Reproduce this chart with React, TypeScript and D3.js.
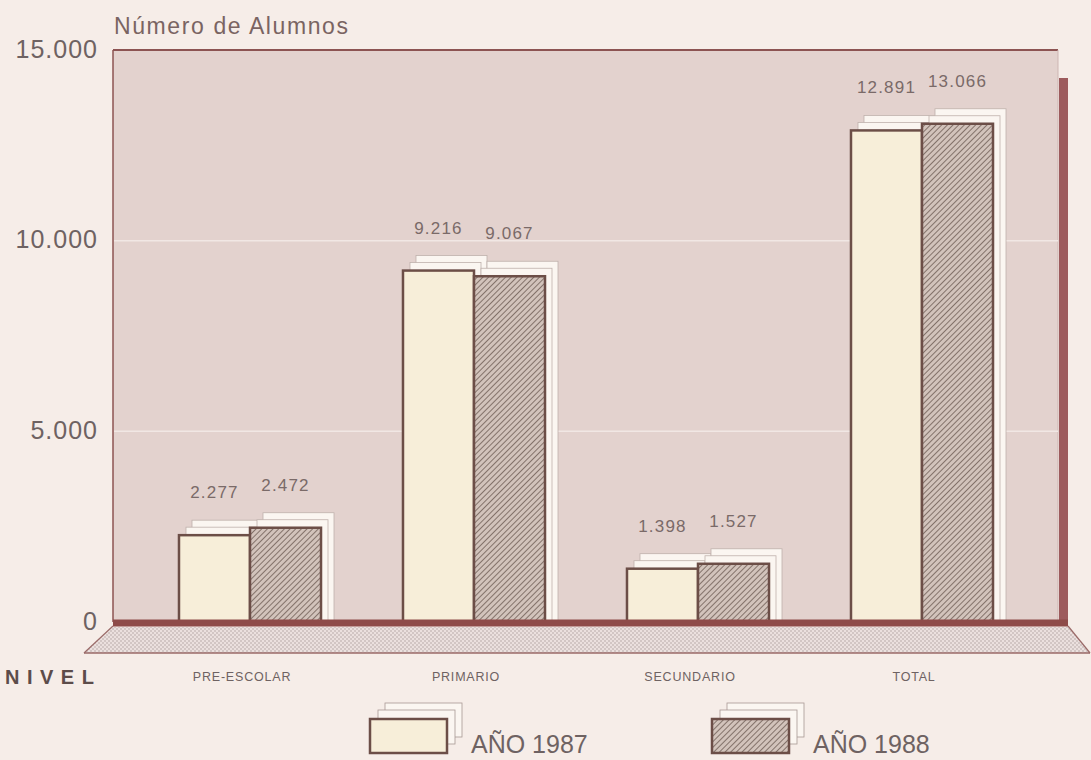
import React from "react";
import * as d3 from "d3";

const categories = ["PRE-ESCOLAR", "PRIMARIO", "SECUNDARIO", "TOTAL"];
const years = ["1987", "1988"];
const values1987 = [2277, 9216, 1398, 12891];
const values1988 = [2472, 9067, 1527, 13066];
const yTicks = [0, 5000, 10000, 15000];
const legendLabels = ["AÑO 1987", "AÑO 1988"];

const W = 1091;
const H = 760;
const panelLeft = 113;
const panelRight = 1058;
const panelTop = 50;
const baseY = 622;

const esLocale = d3.formatLocale({
  decimal: ",",
  thousands: ".",
  grouping: [3],
  currency: ["", ""],
});
const fmt = esLocale.format(",d");

const FONT = "'Liberation Sans', Arial, Helvetica, sans-serif";

const App = () => {
  const y = d3.scaleLinear().domain([0, 15000]).range([baseY, panelTop]);
  const x0 = d3
    .scaleBand<string>()
    .domain(categories)
    .range([138, 1034])
    .paddingInner(0.366)
    .paddingOuter(0.183);
  const x1 = d3.scaleBand<string>().domain(years).range([0, x0.bandwidth()]);

  const rows = categories.map((c, i) => ({
    cat: c,
    bars: [
      { year: years[0], value: values1987[i] },
      { year: years[1], value: values1988[i] },
    ],
  }));

  const barFill = (year: string) =>
    year === "1987" ? "#f7eed9" : "url(#hatch)";

  // back "cards" stacked up-right of every bar
  const cardOffsets = [
    [13, -15],
    [7, -8],
  ];

  return (
    <svg
      width={W}
      height={H}
      style={{ position: "absolute", left: 0, top: 0 }}
      fontFamily={FONT}
    >
      <defs>
        <pattern
          id="hatch"
          patternUnits="userSpaceOnUse"
          width={4}
          height={4}
          patternTransform="rotate(45)"
        >
          <rect width={4} height={4} fill="#d2c3bb" />
          <line x1={0} y1={0} x2={0} y2={4} stroke="#7a6961" strokeWidth={1.8} />
        </pattern>
        <pattern id="dots" patternUnits="userSpaceOnUse" width={4} height={4}>
          <rect width={4} height={4} fill="#ebe0de" />
          <circle cx={1} cy={1} r={0.8} fill="#b3a5a4" />
          <circle cx={3} cy={3} r={0.8} fill="#b3a5a4" />
        </pattern>
      </defs>

      <rect width={W} height={H} fill="#f6ede8" />

      {/* title */}
      <text x={114} y={34} fontSize={23} letterSpacing={1.6} fill="#7a6462">
        Número de Alumnos
      </text>

      {/* panel */}
      <rect
        x={panelLeft}
        y={panelTop}
        width={panelRight - panelLeft}
        height={baseY - panelTop}
        fill="#e3d2ce"
      />
      {/* right shadow */}
      <polygon
        points={`${panelRight + 1},78 ${panelRight + 10},78 ${panelRight + 10},${baseY} ${panelRight + 1},${baseY}`}
        fill="#9d5b5d"
      />
      <line
        x1={panelLeft}
        x2={panelRight}
        y1={panelTop}
        y2={panelTop}
        stroke="#8c5352"
        strokeWidth={2}
      />
      <line
        x1={panelLeft}
        x2={panelLeft}
        y1={panelTop}
        y2={baseY}
        stroke="#8c5352"
        strokeWidth={1.5}
      />
      <line
        x1={panelRight}
        x2={panelRight}
        y1={panelTop}
        y2={baseY}
        stroke="#cdb6b3"
        strokeWidth={1}
      />

      {/* grid lines */}
      {yTicks
        .filter((t) => t > 0 && t < 15000)
        .map((t) => (
          <line
            key={t}
            x1={panelLeft + 1}
            x2={panelRight}
            y1={y(t)}
            y2={y(t)}
            stroke="#f1e7e4"
            strokeWidth={1.5}
          />
        ))}

      {/* y tick labels */}
      {yTicks.map((t) => (
        <text
          key={t}
          x={98}
          y={y(t) + 1}
          textAnchor="end"
          dominantBaseline="middle"
          fontSize={25}
          letterSpacing={1}
          fill="#6e6262"
        >
          {t === 0 ? "0" : fmt(t)}
        </text>
      ))}

      {/* bars */}
      {rows.map((r) => (
        <g key={r.cat} transform={`translate(${x0(r.cat)},0)`}>
          {r.bars.map((b) => {
            const bx = x1(b.year) ?? 0;
            const bw = x1.bandwidth();
            const top = y(b.value);
            return (
              <g key={b.year}>
                {cardOffsets.map(([dx, dy], k) => (
                  <rect
                    key={k}
                    x={bx + dx}
                    y={top + dy}
                    width={bw}
                    height={baseY - top - dy}
                    fill="#fbf6f1"
                    stroke="#bfb1ac"
                    strokeWidth={0.8}
                  />
                ))}
                <rect
                  x={bx}
                  y={top}
                  width={bw}
                  height={baseY - top}
                  fill={barFill(b.year)}
                  stroke="#6c4e47"
                  strokeWidth={2.5}
                />
                <text
                  x={bx + bw / 2}
                  y={top - 37}
                  textAnchor="middle"
                  fontSize={17}
                  letterSpacing={1.2}
                  fill="#7a6a68"
                >
                  {fmt(b.value)}
                </text>
              </g>
            );
          })}
        </g>
      ))}

      {/* floor */}
      <polygon
        points={`${panelLeft},${baseY + 5} ${panelRight + 10},${baseY + 5} 1090,653 84,653`}
        fill="url(#dots)"
      />
      <line x1={84} x2={1090} y1={653} y2={653} stroke="#9a6a68" strokeWidth={1.5} />
      <line
        x1={panelLeft}
        x2={panelRight + 10}
        y1={baseY + 1}
        y2={baseY + 1}
        stroke="#8e4b49"
        strokeWidth={7}
      />
      <line x1={panelLeft} y1={baseY + 4} x2={84} y2={653} stroke="#9a6a68" strokeWidth={1.2} />
      <line x1={panelRight + 10} y1={baseY + 4} x2={1090} y2={653} stroke="#9a6a68" strokeWidth={1.2} />

      {/* category labels */}
      <text
        x={5}
        y={684}
        fontSize={20}
        fontWeight="bold"
        letterSpacing={7.5}
        fill="#5c4c4a"
      >
        NIVEL
      </text>
      {categories.map((c) => (
        <text
          key={c}
          x={(x0(c) ?? 0) + x0.bandwidth() / 2 - 8}
          y={681}
          textAnchor="middle"
          fontSize={12.5}
          letterSpacing={0.8}
          fill="#6e6262"
        >
          {c}
        </text>
      ))}

      {/* legend */}
      {years.map((yr, i) => {
        const lx = i === 0 ? 370 : 712;
        const ly = 719;
        const lw = 77;
        const lh = 34;
        return (
          <g key={yr}>
            {[
              [15, -16],
              [8, -9],
            ].map(([dx, dy], k) => (
              <rect
                key={k}
                x={lx + dx}
                y={ly + dy}
                width={lw}
                height={lh}
                fill="#fbf6f1"
                stroke="#a89894"
                strokeWidth={0.8}
              />
            ))}
            <rect
              x={lx}
              y={ly}
              width={lw}
              height={lh}
              fill={barFill(yr)}
              stroke="#6c4e47"
              strokeWidth={2.5}
            />
            <text x={lx + lw + 24} y={753} fontSize={25} fill="#6e6262">
              {legendLabels[i]}
            </text>
          </g>
        );
      })}
    </svg>
  );
};

export default App;
